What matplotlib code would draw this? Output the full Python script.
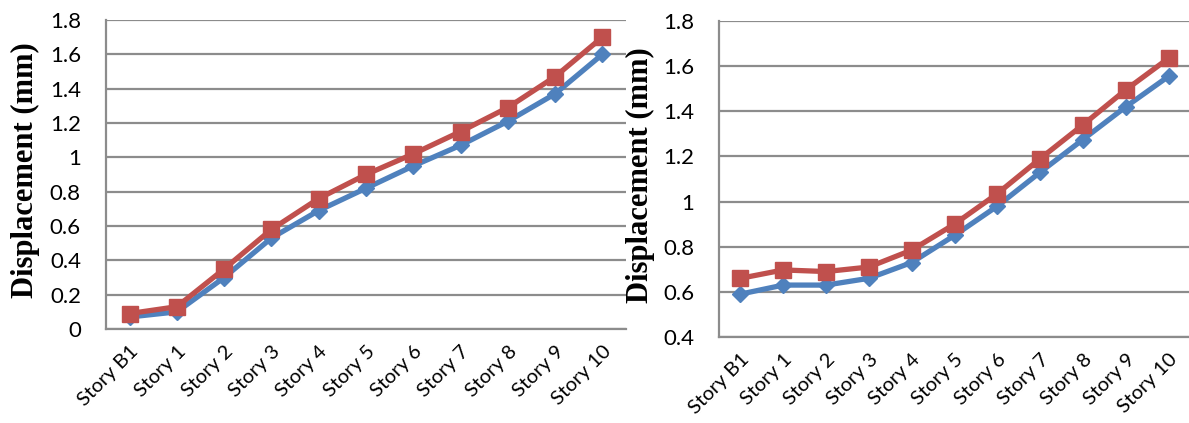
import matplotlib
matplotlib.use("Agg")
import matplotlib.pyplot as plt

stories = ["Story B1", "Story 1", "Story 2", "Story 3", "Story 4", "Story 5",
           "Story 6", "Story 7", "Story 8", "Story 9", "Story 10"]

# Left panel
left_blue = [0.07, 0.10, 0.30, 0.53, 0.69, 0.82, 0.95, 1.07, 1.21, 1.37, 1.60]
left_red = [0.09, 0.13, 0.35, 0.58, 0.76, 0.90, 1.02, 1.15, 1.29, 1.47, 1.70]

# Right panel
right_blue = [0.59, 0.63, 0.63, 0.66, 0.73, 0.85, 0.98, 1.13, 1.275, 1.42, 1.555]
right_red = [0.66, 0.697, 0.69, 0.71, 0.785, 0.90, 1.035, 1.19, 1.34, 1.495, 1.635]

left_ticks = [0, 0.2, 0.4, 0.6, 0.8, 1.0, 1.2, 1.4, 1.6, 1.8]
left_ticklabels = ["0", "0.2", "0.4", "0.6", "0.8", "1", "1.2", "1.4", "1.6", "1.8"]
right_ticks = [0.4, 0.6, 0.8, 1.0, 1.2, 1.4, 1.6, 1.8]
right_ticklabels = ["0.4", "0.6", "0.8", "1", "1.2", "1.4", "1.6", "1.8"]

BLUE = "#4F81BD"
RED = "#C0504D"
GRID = "#8C8C8C"
W, H = 1189, 423

fig = plt.figure(figsize=(W / 100, H / 100), dpi=100)

def panel(rect, blue, red, ticks, ticklabels, ylim, ylabel_x):
    ax = fig.add_axes(rect)
    x = list(range(len(stories)))
    ax.plot(x, blue, color=BLUE, lw=3.8, marker="D", ms=8.5, mfc=BLUE, mec=BLUE, zorder=3)
    ax.plot(x, red, color=RED, lw=3.8, marker="s", ms=12, mfc=RED, mec=RED, zorder=4)
    ax.set_xlim(-0.5, len(stories) - 0.5)
    ax.set_ylim(*ylim)
    ax.set_yticks(ticks)
    ax.set_yticklabels(ticklabels, fontsize=16, family="Lato")
    ax.set_xticks(x)
    ax.set_xticklabels(stories, rotation=45, ha="right", va="top",
                       rotation_mode="anchor", fontsize=14.5, family="Lato")
    ax.tick_params(axis="both", length=0)
    ax.tick_params(axis="y", pad=18)
    ax.tick_params(axis="x", pad=10)
    ax.grid(axis="y", color=GRID, lw=1.6)
    ax.set_axisbelow(True)
    for s in ("top", "right"):
        ax.spines[s].set_visible(False)
    for s in ("left", "bottom"):
        ax.spines[s].set_color(GRID)
        ax.spines[s].set_linewidth(1.6)
    fig.text(ylabel_x, rect[1] + rect[3] / 2 + 0.01, "Displacement (mm)", rotation=90,
             ha="center", va="center", fontsize=22, fontweight="bold",
             family="Liberation Serif")
    return ax

panel([106 / W, (H - 329) / H, 520 / W, 309 / H], left_blue, left_red,
      left_ticks, left_ticklabels, (0, 1.8), 25 / W)
panel([719 / W, (H - 337) / H, 471 / W, 316 / H], right_blue, right_red,
      right_ticks, right_ticklabels, (0.4, 1.8), 640 / W)

fig.savefig("out.png", dpi=100)
